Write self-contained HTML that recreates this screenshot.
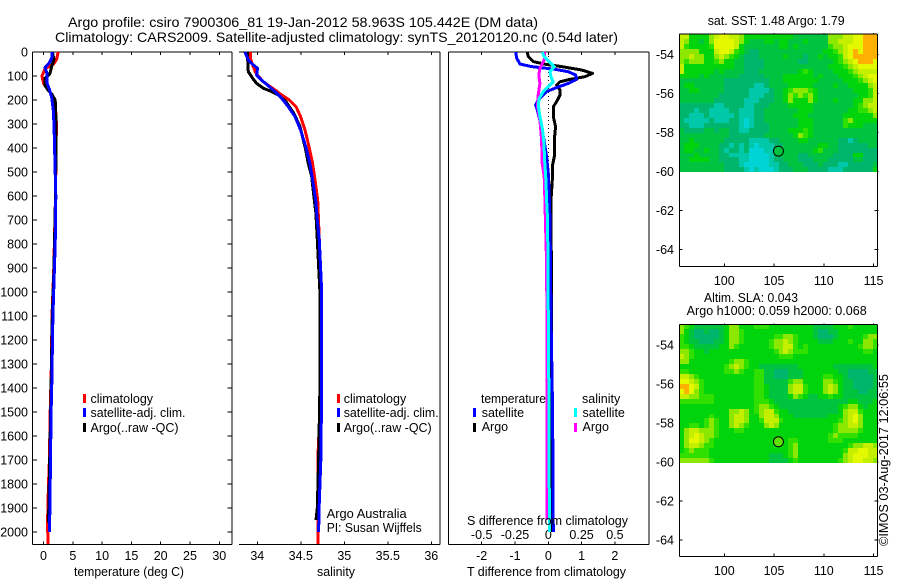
<!DOCTYPE html>
<html>
<head>
<meta charset="utf-8">
<title>Argo profile chart</title>
<style>
html,body{margin:0;padding:0;background:#fff;}
svg{display:block;}
text{font-family:"Liberation Sans",sans-serif;font-size:12.5px;fill:#000;}
.t{font-size:14px;}
</style>
</head>
<body>
<svg id="chart" width="900" height="580" viewBox="0 0 900 580" xmlns="http://www.w3.org/2000/svg">
<rect width="900" height="580" fill="#fff"/>
<text class="t" x="68" y="27" textLength="470" lengthAdjust="spacingAndGlyphs">Argo profile: csiro 7900306_81 19-Jan-2012 58.963S 105.442E (DM data)</text>
<text class="t" x="55" y="42" textLength="563" lengthAdjust="spacingAndGlyphs">Climatology: CARS2009. Satellite-adjusted climatology: synTS_20120120.nc (0.54d later)</text>

<g id="layer"></g>

<text x="74" y="576" textLength="110" lengthAdjust="spacingAndGlyphs">temperature (deg C)</text>
<text x="317" y="576" textLength="38" lengthAdjust="spacingAndGlyphs">salinity</text>
<text x="467" y="576" textLength="159" lengthAdjust="spacingAndGlyphs">T difference from climatology</text>
<text x="467" y="525" textLength="161" lengthAdjust="spacingAndGlyphs">S difference from climatology</text>

<g>
<rect x="83" y="394" width="3" height="9" fill="#f00"/>
<rect x="83" y="408" width="3" height="9" fill="#00f"/>
<rect x="83" y="423" width="3" height="9" fill="#000"/>
<text x="90.5" y="403">climatology</text>
<text x="90.5" y="417" textLength="95" lengthAdjust="spacingAndGlyphs">satellite-adj. clim.</text>
<text x="90.5" y="432" textLength="88" lengthAdjust="spacingAndGlyphs">Argo(..raw -QC)</text>
</g>
<g>
<rect x="337" y="394" width="3" height="9" fill="#f00"/>
<rect x="337" y="408" width="3" height="9" fill="#00f"/>
<rect x="337" y="423" width="3" height="9" fill="#000"/>
<text x="343.7" y="403">climatology</text>
<text x="343.7" y="417" textLength="95" lengthAdjust="spacingAndGlyphs">satellite-adj. clim.</text>
<text x="343.7" y="432" textLength="88" lengthAdjust="spacingAndGlyphs">Argo(..raw -QC)</text>
</g>
<text x="326.7" y="518" textLength="80" lengthAdjust="spacingAndGlyphs">Argo Australia</text>
<text x="326.7" y="532" textLength="95" lengthAdjust="spacingAndGlyphs">PI: Susan Wijffels</text>

<g>
<text x="481" y="403" textLength="65" lengthAdjust="spacingAndGlyphs">temperature</text>
<text x="582" y="403">salinity</text>
<rect x="473" y="408" width="3" height="9" fill="#00f"/>
<rect x="473" y="423" width="3" height="9" fill="#000"/>
<rect x="574" y="408" width="3" height="9" fill="#0ff"/>
<rect x="574" y="423" width="3" height="9" fill="#f0f"/>
<text x="481.7" y="417">satellite</text>
<text x="481.7" y="431">Argo</text>
<text x="582.5" y="417">satellite</text>
<text x="582.5" y="431">Argo</text>
</g>

<text x="707.7" y="25" textLength="137" lengthAdjust="spacingAndGlyphs">sat. SST: 1.48 Argo: 1.79</text>
<text x="704" y="302" textLength="94" lengthAdjust="spacingAndGlyphs">Altim. SLA: 0.043</text>
<text x="686.7" y="315" textLength="180" lengthAdjust="spacingAndGlyphs">Argo h1000: 0.059 h2000: 0.068</text>
<text transform="translate(888,546) rotate(-90)" textLength="172" lengthAdjust="spacingAndGlyphs">©IMOS 03-Aug-2017 12:06:55</text>
</svg>

<script>
// ---------- Profile data ----------
var depthTicks = [0,100,200,300,400,500,600,700,800,900,1000,1100,1200,1300,1400,1500,1600,1700,1800,1900,2000];
var tempTicks = [0,5,10,15,20,25,30];
var salTicks = [34,34.5,35,35.5,36];
var salTickLabels = ['34','34.5','35','35.5','36'];
var diffTTicks = [-2,-1,0,1,2];
var diffTTickLabels = ['-2','-1','0','1','2'];
var diffSTicks = [-0.5,-0.25,0,0.25,0.5];
var diffSTickLabels = ['-0.5','-0.25','0','0.25','0.5'];
var latTicks = [-54,-56,-58,-60,-62,-64];
var lonTicks = [100,105,110,115];

var tempClimDepth = [0,30,50,70,100,130,150,170,200,250,300,600,900,1100,1300,1500,1700,1800,1950,2050];
var tempClim = [2.5,2.25,1.7,0.25,-0.25,0,0.55,1.2,1.7,2.1,2.2,2.05,1.75,1.45,1.35,1.15,1.0,0.85,0.7,0.75];
var tempArgoDepth = [0,30,60,90,110,140,160,175,200,300,360,600,900,1100,1400,1700,1900,1960];
var tempArgo = [1.5,1.8,1.4,1.1,0.25,0.25,0.8,1.4,2.0,2.15,2.15,2.05,1.8,1.5,1.3,1.05,0.9,0.85];
var tempSatDepth = [0,25,45,65,90,130,155,190,250,350,600,800,1100,1400,1500,1700,1900,2000];
var tempSat = [1.5,1.4,1.0,0.25,0.6,0.6,1.0,1.4,1.7,1.85,2.1,2.0,1.6,1.4,1.3,1.2,1.1,1.0];

var salClimDepth = [0,31,61,89,124,158,179,200,228,269,325,394,464,533,617,783,1000,1400,1660,2050];
var salClim = [33.924,33.924,33.954,33.985,34.069,34.203,34.28,34.368,34.445,34.498,34.548,34.594,34.636,34.663,34.694,34.713,34.735,34.73,34.7,34.7];
var salArgoDepth = [0,82,110,131,151,165,179,207,256,311,394,464,519,603,672,783,1000,1400,1700,1900,1950];
var salArgo = [33.885,33.897,33.947,33.992,34.069,34.165,34.241,34.33,34.421,34.491,34.548,34.586,34.625,34.651,34.674,34.69,34.72,34.72,34.705,34.69,34.675];
var salSatDepth = [0,33,54,68,96,117,144,165,193,228,269,325,394,464,533,617,700,783,1000,1400,1700,1900,2000];
var salSat = [33.858,33.897,33.954,34.004,33.992,34.05,34.138,34.203,34.28,34.356,34.433,34.498,34.556,34.605,34.636,34.671,34.69,34.713,34.74,34.74,34.73,34.71,34.705];

var diffTArgoDepth = [0,19,40,51,61,75,89,103,114,124,138,158,179,207,228,269,311,367,436,478,533,617,700,1000,2000];
var diffTArgo = [-0.63,-0.6,-0.45,-0.1,0.4,1.0,1.33,1.1,0.65,0.35,0.25,0.35,0.35,0.25,0.15,0.15,0.22,0.18,0.18,0.12,0.12,0.08,0.08,0.1,0.11];
var diffTSatDepth = [0,26,50,61,72,82,96,114,131,151,165,179,200,221,242,276,311,367,436,506,575,700,1100,1500,2000];
var diffTSat = [-0.98,-0.95,-0.85,-0.5,0.2,0.6,0.82,0.85,0.6,0.2,-0.05,-0.15,-0.3,-0.38,-0.33,-0.27,-0.2,-0.13,-0.05,0,0.02,0.05,0.08,0.13,0.15];
var diffSArgoDepth = [0,33,68,96,131,179,228,283,367,464,519,603,700,850,1100,1500,1950];
var diffSArgo = [-0.026,-0.031,-0.063,-0.071,-0.063,-0.076,-0.081,-0.063,-0.05,-0.046,-0.031,-0.026,-0.022,-0.014,-0.01,-0.008,-0.008];
var diffSSatDepth = [0,19,40,61,82,103,124,144,165,193,221,269,325,380,464,533,617,700,1100,1500,2000];
var diffSSat = [-0.046,-0.031,0.005,0.045,0.012,0.02,0.037,0,-0.038,-0.068,-0.075,-0.063,-0.043,-0.033,-0.026,-0.018,-0.013,-0.005,0,0.005,0.008];

// ---------- Float position ----------
var floatLon = 105.442;
var floatLat = -58.963;

// ---------- Map data (0 = coldest/lowest ... 9 = warmest/highest) ----------
var sstValues = [
[7,7,4,4,4,4,6,7,8,8,7,7,6,4,4,4,4,4,4,4,4,4,4,3,3,3,3,3,3,3,6,6,6,7,7,8,8,9,9,9],
[7,6,4,4,3,4,6,8,8,8,8,7,6,4,3,3,3,4,4,3,4,4,3,3,3,4,3,3,3,3,6,6,7,7,7,8,8,9,9,9],
[7,5,4,4,4,4,5,8,8,8,8,7,4,3,3,3,3,3,3,3,4,4,3,4,3,3,3,3,3,3,5,6,6,7,8,8,8,9,9,9],
[6,6,6,6,4,4,4,7,8,8,7,5,4,3,2,2,3,3,3,3,3,3,3,3,3,3,3,3,3,4,4,5,6,7,8,9,8,9,9,9],
[6,6,7,6,6,4,4,6,7,6,5,4,3,2,2,2,3,3,3,3,3,4,3,3,3,2,3,3,4,3,4,4,5,7,8,9,9,9,9,9],
[6,5,6,6,6,4,4,5,6,4,4,3,3,2,2,2,2,3,3,3,3,3,3,3,2,2,3,3,3,3,3,4,5,6,7,8,9,9,9,8],
[7,4,4,4,4,4,4,4,4,4,4,3,3,2,2,2,2,3,3,3,3,3,3,3,3,3,3,3,3,3,4,4,4,5,6,7,8,8,8,8],
[7,4,4,4,4,4,4,3,4,3,3,3,3,2,2,2,3,3,3,3,3,3,3,3,4,5,4,3,3,3,3,4,4,4,5,6,7,7,7,7],
[4,4,4,4,3,4,3,3,3,3,3,3,2,2,2,2,2,3,3,3,3,4,4,4,4,4,4,3,4,3,3,3,4,4,4,5,6,7,8,8],
[3,3,3,3,3,3,3,3,3,2,2,2,2,2,2,2,2,2,3,3,3,4,4,4,4,4,4,4,3,3,3,3,3,4,4,4,5,6,7,8],
[3,4,4,3,3,3,3,3,3,2,2,2,2,2,2,1,1,2,3,3,3,3,4,4,4,4,4,3,3,3,3,4,3,3,4,4,4,4,6,7],
[3,3,4,4,3,3,3,3,3,2,2,2,2,2,1,1,1,1,2,3,3,4,5,6,6,6,5,4,3,3,3,3,3,3,3,4,4,4,5,7],
[3,3,3,3,3,3,3,3,2,2,2,2,2,2,1,1,1,2,2,3,3,4,6,5,6,5,6,4,3,3,3,3,3,3,3,3,4,4,5,7],
[3,3,3,3,3,3,3,2,2,2,2,2,2,1,1,1,2,2,2,3,3,4,6,4,4,4,6,4,3,3,3,4,3,3,3,4,4,6,6,7],
[2,2,2,2,2,2,2,1,1,2,2,2,2,1,1,2,2,2,3,3,3,3,4,4,4,4,4,3,3,3,3,3,3,3,3,4,5,6,7,7],
[2,2,2,1,2,2,1,1,1,1,2,2,1,1,1,2,2,3,3,3,3,3,3,3,4,4,4,3,3,3,3,3,3,3,4,4,5,5,6,7],
[2,2,1,1,1,2,1,1,1,1,1,2,1,1,1,2,2,3,3,3,3,3,3,4,4,4,3,3,3,3,3,3,3,4,4,4,4,4,4,6],
[2,1,1,1,1,1,2,1,1,1,2,2,1,0,1,2,2,3,3,3,3,3,3,3,4,4,4,3,3,3,3,3,3,5,6,4,4,4,4,4],
[2,2,1,1,1,2,2,2,2,2,2,2,1,0,1,2,2,2,3,3,3,3,3,3,4,4,4,3,3,3,3,3,3,5,4,4,4,3,3,3],
[3,2,2,2,2,3,3,2,3,3,2,2,1,1,2,2,2,2,3,3,3,3,4,4,4,5,4,3,3,3,3,3,3,3,3,3,3,3,3,3],
[3,3,3,3,3,3,3,3,3,3,2,2,2,2,2,2,2,3,3,3,3,3,3,4,6,5,4,3,3,3,3,3,3,3,3,3,3,3,3,3],
[3,3,4,3,3,3,3,3,3,2,2,2,2,2,1,1,1,1,2,2,3,3,3,3,4,4,3,3,3,3,3,3,2,2,1,2,3,3,3,3],
[3,4,4,4,3,3,3,3,2,2,1,2,1,2,1,0,1,1,1,2,2,3,3,3,3,3,3,3,4,4,3,3,2,2,2,2,2,2,3,3],
[3,4,4,3,3,4,3,3,2,1,2,2,1,2,0,0,0,1,1,2,2,3,3,3,3,3,3,4,5,3,3,3,2,2,2,2,2,2,2,2],
[3,3,3,4,3,3,3,3,2,2,1,1,1,1,0,0,0,0,1,2,3,3,3,3,2,2,3,3,3,3,3,2,2,2,2,4,4,2,2,2],
[3,3,4,4,4,4,3,3,2,2,2,2,1,1,0,0,0,0,1,2,2,3,3,3,2,2,2,3,3,3,2,2,2,2,2,3,3,2,2,2],
[3,3,3,3,3,3,3,3,3,2,2,2,1,0,0,0,0,0,1,1,2,2,3,3,3,2,2,2,3,2,2,2,1,1,2,2,2,2,2,3],
[3,3,3,3,3,3,3,3,3,2,2,2,2,1,0,1,0,0,0,1,2,2,2,3,3,3,2,2,2,2,1,1,1,2,2,2,2,2,2,4]
];
var slaValues = [
[6,5,4,3,3,3,3,3,3,4,6,6,4,4,4,5,5,5,4,4,4,4,4,4,4,4,4,3,3,3,3,4,4,4,5,4,4,4,4,4],
[6,4,3,2,2,3,2,2,3,4,6,6,5,4,4,4,4,4,4,4,4,4,4,4,4,4,4,3,2,2,3,3,4,4,4,4,4,4,4,4],
[5,4,3,2,2,2,2,2,3,4,6,6,5,4,4,4,4,4,4,5,5,6,6,5,4,4,4,3,2,2,2,3,4,4,4,4,4,5,6,6],
[5,4,3,3,2,2,2,3,3,4,6,6,5,4,4,4,4,4,5,6,6,7,6,5,4,4,4,4,3,3,3,4,4,4,5,4,4,6,6,5],
[5,5,4,3,3,3,3,3,4,4,6,5,4,4,4,4,4,4,5,6,6,7,7,5,4,5,4,4,4,4,4,4,4,4,4,4,5,6,6,5],
[6,6,5,4,4,3,4,4,4,4,4,4,4,4,4,4,4,4,4,5,6,7,6,5,5,5,4,4,4,4,4,4,4,4,4,4,4,5,5,4],
[7,6,5,4,4,4,4,4,4,4,4,4,4,4,4,4,4,4,4,4,5,5,5,4,4,4,4,4,4,4,4,4,4,4,4,4,4,4,4,4],
[6,6,4,4,4,4,4,4,4,4,5,6,6,5,4,4,4,4,4,4,4,4,4,4,4,4,4,4,4,4,4,4,4,4,4,4,4,4,4,4],
[4,4,4,4,4,4,4,4,4,5,6,7,6,5,4,4,3,3,3,3,3,3,3,3,4,4,4,4,4,4,4,3,3,3,3,3,3,3,3,4],
[5,5,4,4,4,4,4,4,4,5,5,6,5,4,4,5,5,3,3,2,2,2,3,3,3,4,4,4,4,4,4,4,3,3,2,2,2,2,3,3],
[7,7,6,5,4,4,4,4,4,4,4,4,4,4,4,5,5,3,3,2,2,2,3,3,3,4,4,4,4,5,5,4,4,3,2,2,2,2,2,3],
[8,8,7,6,5,4,4,4,4,4,4,4,4,4,4,5,5,3,3,3,3,3,5,6,6,4,4,4,4,6,6,5,4,3,3,2,2,2,2,3],
[9,9,8,7,5,4,4,4,4,4,4,4,4,4,4,5,5,4,3,3,3,3,6,7,7,5,4,4,4,6,7,6,4,3,3,2,2,2,2,3],
[8,9,8,6,5,4,4,4,4,4,4,4,4,4,4,5,5,4,3,3,3,3,6,7,7,5,4,4,4,6,7,6,4,3,3,3,2,2,3,3],
[7,7,6,6,5,5,5,4,4,4,4,4,4,4,4,5,5,4,3,3,3,3,4,6,5,4,3,3,4,4,5,4,4,3,3,3,3,3,3,3],
[5,5,5,5,5,5,5,4,4,4,4,4,4,4,4,5,5,5,4,3,3,3,3,3,3,3,3,3,3,3,3,3,3,3,4,4,3,3,3,4],
[4,4,4,4,4,4,4,4,4,4,4,4,4,4,4,5,6,6,5,4,3,3,3,3,3,3,3,3,3,3,3,3,4,5,6,6,4,3,4,4],
[4,4,4,4,4,4,4,4,4,4,6,6,7,6,4,5,6,7,7,5,4,4,3,3,3,3,3,3,3,3,3,3,4,6,7,7,5,4,4,4],
[4,4,4,4,4,4,5,4,4,4,6,7,7,6,4,4,6,7,7,6,4,4,4,3,3,3,3,3,3,3,4,4,4,6,7,8,6,4,4,4],
[4,4,4,4,4,5,6,5,4,4,6,7,7,6,4,4,5,7,7,7,5,4,4,4,4,4,4,4,4,4,4,4,5,6,7,8,6,4,4,4],
[4,4,5,5,4,5,6,5,4,4,6,7,6,5,4,4,4,6,7,6,4,4,4,4,4,4,4,4,4,4,4,5,6,6,7,7,6,4,4,4],
[4,6,7,7,6,6,6,5,4,4,4,5,5,4,4,4,4,4,4,4,4,4,4,4,4,4,4,4,4,4,4,5,6,6,6,6,5,4,4,4],
[4,6,7,8,7,6,6,5,4,4,4,4,4,4,4,4,4,4,4,4,4,4,4,4,4,4,4,4,4,4,5,6,5,5,5,5,4,4,4,4],
[4,6,8,8,7,6,5,4,4,4,4,4,4,4,4,4,4,4,4,4,4,4,5,5,4,4,4,4,4,4,5,5,5,4,4,4,4,4,4,4],
[4,6,7,7,6,5,5,4,4,4,4,4,4,4,4,4,4,4,4,4,4,4,5,6,4,4,4,4,4,4,4,4,4,4,5,6,6,7,7,6],
[4,5,6,5,5,5,4,4,4,4,4,4,4,4,4,4,4,4,4,4,4,4,5,6,4,4,4,4,4,4,4,4,4,5,7,7,8,8,7,7],
[5,5,5,5,5,5,4,4,4,4,4,4,4,4,4,4,4,4,3,3,3,4,5,6,4,4,4,4,4,4,4,4,4,6,7,8,8,8,7,7],
[6,6,6,6,6,6,5,4,4,4,4,4,4,4,4,4,4,4,3,3,3,3,4,5,4,4,4,4,4,4,4,4,5,6,7,8,8,7,7,6]
];
var colourScale = ['#00d4d4','#00c8a8','#00b66c','#00c440','#00d40c','#30e000','#8ce800','#c4f000','#e4f800','#ffb000'];

// ---------- Axis functions ----------
function yDepth(d){ return 52 + d*0.24; }
function xTemp(t){ return 43.5 + 5.86*t; }
function xSal(s){ return 257.3 + 87*(s-34); }
function xDiffT(t){ return 548.3 + 33.3*t; }
function xDiffS(s){ return 548.3 + 133.2*s; }
function xLon(lon){ return 724.3 + 9.95*(lon-100); }
function yLat1(lat){ return 54.3 + 19.5*(-54-lat); }
function yLat2(lat){ return 345 + 19.5*(-54-lat); }

var NS = 'http://www.w3.org/2000/svg';
var layer = document.getElementById('layer');
function mk(tag, attrs, parent){
  var e = document.createElementNS(NS, tag);
  for (var k in attrs) e.setAttribute(k, attrs[k]);
  (parent||layer).appendChild(e);
  return e;
}
function line(x1,y1,x2,y2,name,parent){
  var l = mk('line',{x1:x1,y1:y1,x2:x2,y2:y2,stroke:'#000','stroke-width':1,'shape-rendering':'crispEdges'},parent);
  
  
  return l;
}
function label(x,y,s,anchor,name){
  var t = mk('text',{x:x,y:y,'text-anchor':anchor});
  t.textContent = s;
  
  
  return t;
}
function profile(depths, values, xf, colour, name){
  var d = '';
  for (var i=0;i<values.length;i++){
    d += (i?'L':'M') + xf(values[i]).toFixed(1) + ' ' + yDepth(depths[i]).toFixed(1);
  }
  var p = mk('path',{d:d,fill:'none',stroke:colour,'stroke-width':3,'stroke-linejoin':'round','shape-rendering':'crispEdges'});
  
  
  return p;
}

// ---------- Panel 1: temperature ----------
line(32.5,52,232,52,'temperature-top-axis');
line(32.5,544.5,232,544.5,'temperature-bottom-axis');
line(32.5,52,32.5,544.5,'temperature-left-axis');
line(232,52,232,544.5,'temperature-right-axis');
depthTicks.forEach(function(d){
  var y = yDepth(d);
  line(32.5,y,37,y,'depth-tick-left');
  line(227.5,y,232,y,'depth-tick-right');
  label(28,y+4.5,String(d),'end','depth-tick-label');
});
tempTicks.forEach(function(t){
  var x = xTemp(t);
  line(x,52,x,55,'temperature-tick-top');
  line(x,541.5,x,544.5,'temperature-tick-bottom');
  label(x,560,String(t),'middle','temperature-tick-label');
});
profile(tempClimDepth,tempClim,xTemp,'#f00','temperature-climatology-line');
profile(tempArgoDepth,tempArgo,xTemp,'#000','temperature-argo-line');
profile(tempSatDepth,tempSat,xTemp,'#00f','temperature-satellite-line');

// ---------- Panel 2: salinity ----------
line(239,52,440,52,'salinity-top-axis');
line(239,544.5,440,544.5,'salinity-bottom-axis');
line(440,52,440,544.5,'salinity-right-axis');
salTicks.forEach(function(s,i){
  var x = xSal(s);
  line(x,52,x,55,'salinity-tick-top');
  line(x,541.5,x,544.5,'salinity-tick-bottom');
  label(x,560,salTickLabels[i],'middle','salinity-tick-label');
});
profile(salClimDepth,salClim,xSal,'#f00','salinity-climatology-line');
profile(salArgoDepth,salArgo,xSal,'#000','salinity-argo-line');
profile(salSatDepth,salSat,xSal,'#00f','salinity-satellite-line');

// ---------- Panel 3: differences ----------
line(448.5,52,649,52,'difference-top-axis');
line(448.5,544.5,649,544.5,'difference-bottom-axis');
line(448.5,52,448.5,544.5,'difference-left-axis');
line(649,52,649,544.5,'difference-right-axis');
diffTTicks.forEach(function(t,i){
  var x = xDiffT(t);
  line(x,52,x,55,'t-difference-tick-top');
  line(x,541.5,x,544.5,'t-difference-tick-bottom');
  label(x,560,diffTTickLabels[i],'middle','t-difference-tick-label');
});
diffSTicks.forEach(function(s,i){
  label(xDiffS(s),539,diffSTickLabels[i],'middle','s-difference-tick-label');
});
var zeroLine = mk('line',{x1:xDiffT(0),y1:yDepth(0),x2:xDiffT(0),y2:yDepth(2000),stroke:'#000','stroke-width':1,'stroke-dasharray':'1 3','shape-rendering':'crispEdges'});


profile(diffTArgoDepth,diffTArgo,xDiffT,'#000','t-difference-argo-line');
profile(diffTSatDepth,diffTSat,xDiffT,'#00f','t-difference-satellite-line');
profile(diffSArgoDepth,diffSArgo,xDiffS,'#f0f','s-difference-argo-line');
profile(diffSSatDepth,diffSSat,xDiffS,'#0ff','s-difference-satellite-line');

// ---------- Maps ----------
function drawMap(values, top, bottom, yLat, mapName, markerFill){
  var left = 679.5, right = 877.5;
  var dataBottom = yLat(-60) + 1;
  lonTicks.forEach(function(lon){
    var x = xLon(lon);
    line(x,top-1,x,top+3,mapName+'-lon-tick');
    line(x,bottom-3,x,bottom,mapName+'-lon-tick');
    label(x,bottom+18.5,String(lon),'middle',mapName+'-lon-label');
  });
  latTicks.forEach(function(lat){
    var y = yLat(lat);
    line(left,y,left+3,y,mapName+'-lat-tick');
    line(right-3,y,right+1,y,mapName+'-lat-tick');
    label(674,y+4.5,String(lat),'end',mapName+'-lat-label');
  });
  var rows = values.length, cols = values[0].length;
  for (var r=0;r<rows;r++){
    var y0 = Math.round(top + (dataBottom-top)*r/rows);
    var y1 = Math.round(top + (dataBottom-top)*(r+1)/rows);
    for (var c=0;c<cols;c++){
      var x0 = Math.round(left + (right-left)*c/cols);
      var x1 = Math.round(left + (right-left)*(c+1)/cols);
      var cell = mk('rect',{x:x0,y:y0,width:x1-x0,height:y1-y0,fill:colourScale[values[r][c]],'shape-rendering':'crispEdges'});
      
      
    }
  }
  line(left,top,right,top,mapName+'-top-axis');
  line(left,bottom,right,bottom,mapName+'-bottom-axis');
  line(left,top,left,bottom,mapName+'-left-axis');
  line(right,top,right,bottom,mapName+'-right-axis');
  var marker = mk('circle',{cx:xLon(floatLon),cy:yLat(floatLat),r:5,fill:markerFill,stroke:'#000','stroke-width':1});
  
  
}
drawMap(sstValues,34,266.5,yLat1,'sst-map','#00c440');
drawMap(slaValues,324.5,556.5,yLat2,'sla-map','#60e000');
</script>
</body>
</html>
